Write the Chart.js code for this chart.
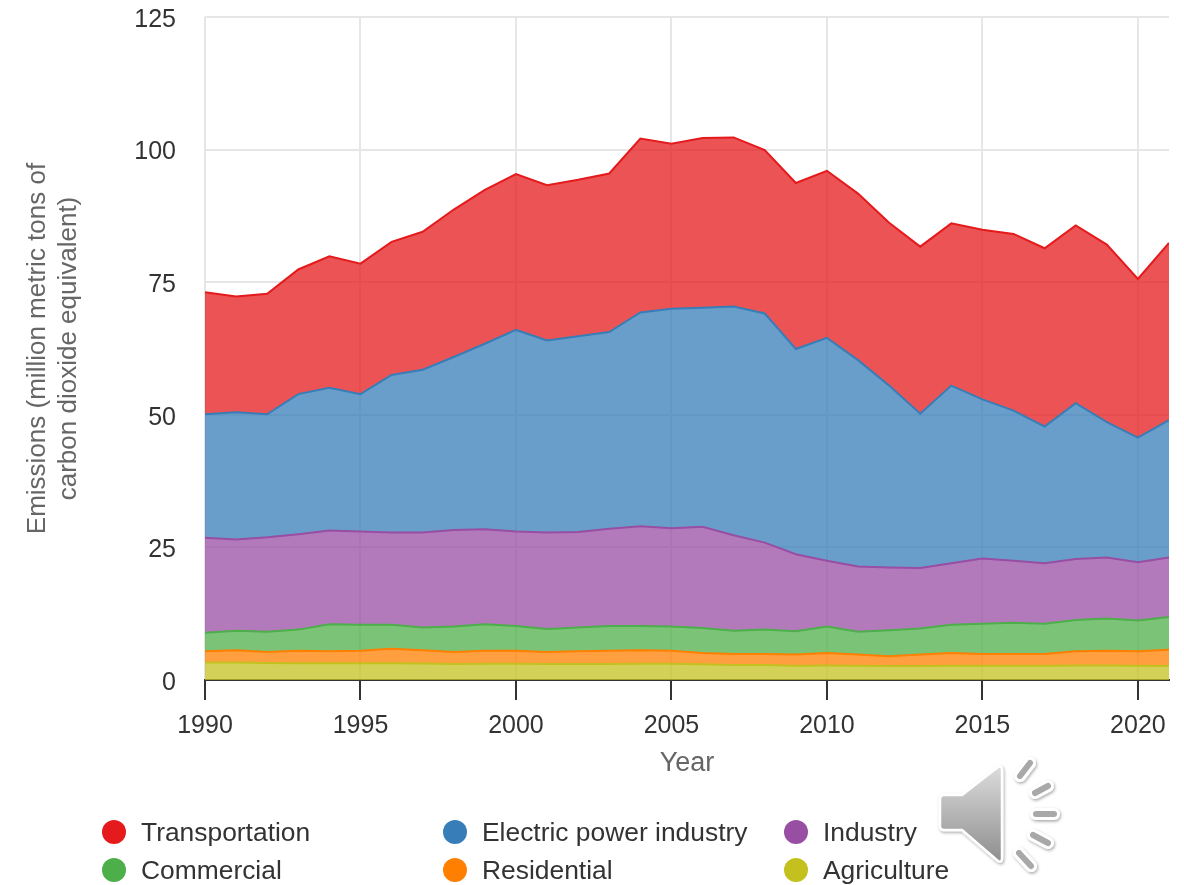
<!DOCTYPE html>
<html><head><meta charset="utf-8">
<script src="https://cdn.jsdelivr.net/npm/chart.js@4"></script>
<style>
html,body{margin:0;padding:0;background:#fff;overflow:hidden}
#wrap{position:relative;width:1184px;height:885px}
canvas{position:absolute;left:0;top:0}
.lg{position:absolute;font:26.4px "Liberation Sans",Arial,sans-serif;color:#333;line-height:28px;white-space:nowrap}
.lg i{position:absolute;left:-39px;top:2px;width:24px;height:24px;border-radius:50%}
svg{position:absolute;left:0;top:0;pointer-events:none}
</style></head><body>
<div id="wrap"><canvas id="c" width="1184" height="885"></canvas><div id="legend"></div>
<svg width="1184" height="885">
<defs><linearGradient id="g" x1="0" y1="0" x2="0" y2="1"><stop offset="0" stop-color="#dcdcdc"/><stop offset="1" stop-color="#8e8e8e"/></linearGradient>
<filter id="s"><feDropShadow dx="1" dy="1.5" stdDeviation="1.5" flood-color="#000" flood-opacity=".35"/></filter></defs>
<g filter="url(#s)">
<path d="M944 795 L962 795 L998 767 Q1002 765 1002 770 L1002 858 Q1002 863 998 861 L962 830 L944 830 Q940 830 940 826 L940 799 Q940 795 944 795Z" fill="url(#g)" stroke="#fff" stroke-width="2.5" stroke-linejoin="round"/>
<g stroke-linecap="round" fill="none">
<g stroke="#fff" stroke-width="12"><path d="M1020 776 L1030 763"/><path d="M1035 793 L1048 786"/><path d="M1036 814 L1054 814"/><path d="M1033 835 L1048 843"/><path d="M1019 853 L1031 866"/></g>
<g stroke="#a8a8a8" stroke-width="6"><path d="M1020 776 L1030 763"/><path d="M1035 793 L1048 786"/><path d="M1036 814 L1054 814"/><path d="M1033 835 L1048 843"/><path d="M1019 853 L1031 866"/></g>
</g></g></svg>
</div>
<script>
const years = [1990,1991,1992,1993,1994,1995,1996,1997,1998,1999,2000,2001,2002,2003,2004,2005,2006,2007,2008,2009,2010,2011,2012,2013,2014,2015,2016,2017,2018,2019,2020,2021];
const agriculture = [3.3,3.3,3.2,3.15,3.15,3.15,3.15,3.1,3.0,3.05,3.05,3.0,3.0,3.0,3.05,3.05,2.95,2.85,2.85,2.7,2.75,2.7,2.65,2.65,2.7,2.7,2.7,2.7,2.75,2.75,2.7,2.65];
const residential = [2.1,2.3,2.1,2.35,2.25,2.35,2.75,2.5,2.3,2.45,2.45,2.3,2.4,2.5,2.55,2.45,2.15,2.05,2.05,2.1,2.35,2.1,1.85,2.15,2.4,2.2,2.2,2.2,2.65,2.75,2.7,3.05];
const commercial = [3.5,3.7,3.8,4.0,5.1,4.9,4.5,4.3,4.8,5.0,4.7,4.3,4.5,4.7,4.6,4.6,4.7,4.4,4.6,4.4,5.0,4.3,4.9,4.9,5.3,5.7,5.9,5.7,5.9,6.1,5.8,6.2];
const industry = [17.9,17.2,17.8,18.0,17.7,17.6,17.4,17.9,18.2,17.9,17.8,18.2,18.0,18.3,18.8,18.5,19.1,18.0,16.4,14.5,12.4,12.3,11.8,11.4,11.6,12.3,11.7,11.4,11.5,11.5,11.0,11.2];
const electric = [23.3,24.0,23.2,26.4,26.9,25.9,29.7,30.7,32.6,35.0,38.0,36.2,36.9,37.1,40.3,41.4,41.3,43.1,43.2,38.7,42.0,38.9,34.3,29.1,33.5,30.0,28.3,25.8,29.4,25.5,23.5,25.9];
const transportation = [23.0,21.8,22.7,23.5,24.8,24.6,25.1,26.0,27.8,29.0,29.4,29.3,29.5,29.9,32.8,31.1,32.0,31.9,30.8,31.3,31.5,31.4,30.7,31.5,30.6,32.0,33.3,33.6,33.5,33.5,29.9,33.4];
const yTicks = [0,25,50,75,100,125];
const legendOrder = ["Transportation","Electric power industry","Industry","Commercial","Residential","Agriculture"];
const FF = '"Liberation Sans", Arial, sans-serif';

function rgba(rgb,a){return `rgba(${rgb},${a})`;}
function ds(label,vals,rgb){return {label,data:vals.map((v,i)=>({x:years[i],y:v})),borderColor:rgba(rgb,1),backgroundColor:rgba(rgb,.75),borderWidth:2,pointRadius:0,tension:0,fill:label==="Agriculture"?"origin":"-1"};}
const datasets = [
 ds("Agriculture",agriculture,"196,193,31"),
 ds("Residential",residential,"255,127,0"),
 ds("Commercial",commercial,"77,175,74"),
 ds("Industry",industry,"152,78,163"),
 ds("Electric power industry",electric,"55,126,184"),
 ds("Transportation",transportation,"228,26,28")
];
const chart = new Chart(document.getElementById('c'),{
 type:'line',
 data:{datasets},
 options:{
  responsive:false,animation:false,
  layout:{padding:{left:22,right:15,top:17,bottom:105}},
  plugins:{legend:{display:false},tooltip:{enabled:false}},
  scales:{
   x:{type:'linear',min:1990,max:2021,
      border:{color:'#333',width:2},
      grid:{color:'#e6e6e6',lineWidth:2,tickColor:'#333',tickLength:20,tickWidth:2},
      ticks:{stepSize:5,includeBounds:false,maxRotation:0,color:'#333',padding:11,font:{family:FF,size:25},callback:v=>String(v)},
      title:{display:true,text:'Year',color:'#666',font:{family:FF,size:27},padding:{top:0,bottom:0}},
      afterFit(s){s.height=100;s.paddingLeft=0;s.paddingRight=0;}},
   y:{stacked:true,min:0,max:125,
      border:{display:false},
      grid:{color:'#e6e6e6',lineWidth:2,drawTicks:false},
      afterBuildTicks(s){s.ticks=yTicks.map(v=>({value:v}));},
      ticks:{color:'#333',padding:29,labelOffset:3,font:{family:FF,size:25}},
      title:{display:true,text:['Emissions (million metric tons of','carbon dioxide equivalent)'],color:'#666',font:{family:FF,size:26,lineHeight:1.2},padding:0},
      afterFit(s){s.width=183;s.paddingTop=0;s.paddingBottom=0;}}
  }
 }
});
const slots=[[141,818],[482,818],[823,818],[141,856],[482,856],[823,856]];
const box=document.getElementById('legend');
legendOrder.forEach((name,i)=>{
 const d=datasets.find(x=>x.label===name);
 const e=document.createElement('div');e.className='lg';e.style.left=slots[i][0]+'px';e.style.top=slots[i][1]+'px';
 const m=document.createElement('i');m.style.background=d.borderColor;e.appendChild(m);
 e.appendChild(document.createTextNode(name));box.appendChild(e);
});
</script>
</body></html>
